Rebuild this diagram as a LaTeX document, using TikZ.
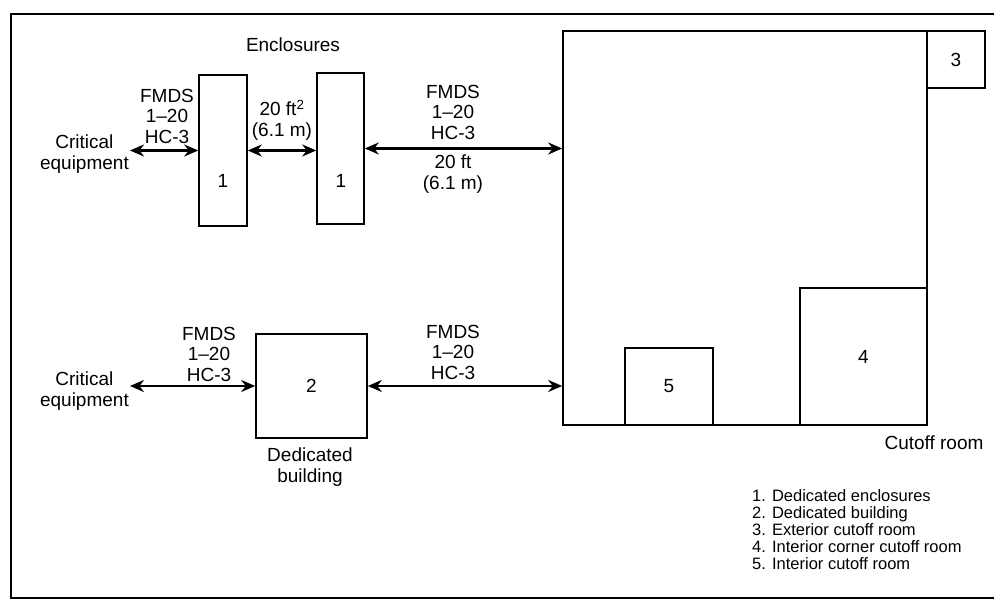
\documentclass[tikz,border=0pt]{standalone}
\usepackage{fontspec}
\setmainfont{Liberation Sans}
\usetikzlibrary{arrows.meta}
\begin{document}
\begin{tikzpicture}[x=1pt,y=1pt]
    \tikzset{
        room/.style={draw,line width=1.6pt,inner sep=0pt,font=\fontsize{19}{20.5}\selectfont},
        txt/.style={align=center,inner sep=1pt,font=\fontsize{19}{20.5}\selectfont},
        distline/.style={{Stealth[length=14pt,width=12pt]}-{Stealth[length=14pt,width=12pt]},line width=2.2pt}
    };
    \useasboundingbox (0,0) rectangle (994,615);
    \draw[line width=1.6pt] (994,601) -- (11,601) -- (11,17) -- (994,17);
    \node[room,minimum width=48,minimum height=151] (encA) at (223,464.5) {};
    \node[room,minimum width=47,minimum height=151] (encB) at (340.5,466.5) {};
    \node[txt] (numA) at (223,434) {1};
    \node[txt] (numB) at (341,434) {1};
    \node[txt] (encl) at (293,570) {Enclosures};
    \node[room,minimum width=364,minimum height=394] (cutoff) at (745,387) {};
    \node[room,minimum width=58,minimum height=57] (ext) at (956,555.5) {3};
    \node[room,minimum width=88,minimum height=77] (inner) at (669,228.5) {5};
    \node[room,minimum width=127,minimum height=137] (corner) at (863.5,258.5) {4};
    \node[room,minimum width=111,minimum height=104] (bldg) at (311.5,229) {2};
    \node[txt,anchor=east] (critA) at (130,461) {Critical\\equipment};
    \node[txt,anchor=east] (critB) at (130,224) {Critical\\equipment};
    \draw[distline] (critA.east |- encA.west) -- (encA.west);
    \draw[distline] (encA.east) -- (encA.east -| encB.west);
    \draw[distline] (encB.east) -- (encB.east -| cutoff.west);
    \draw[distline] (critB.east |- bldg.west) -- (bldg.west);
    \draw[distline] (bldg.east) -- (bldg.east -| cutoff.west);
    \node[txt] (fmdsA) at (167,499) {FMDS\\1\textendash20\\HC-3};
    \node[txt] (ftA) at (282,495) {20 ft\textsuperscript{2}\\(6.1 m)};
    \node[txt] (fmdsB) at (453,503) {FMDS\\1\textendash20\\HC-3};
    \node[txt] (ftB) at (453,441) {20 ft\\(6.1 m)};
    \node[txt] (fmdsC) at (209,261) {FMDS\\1\textendash20\\HC-3};
    \node[txt] (fmdsD) at (453,263) {FMDS\\1\textendash20\\HC-3};
    \node[txt] (bldgname) at (310,148) {Dedicated\\building};
    \node[txt] (cutname) at (934,172) {Cutoff room};
    \node[txt,align=left,anchor=west,font=\fontsize{16.5}{17}\selectfont] (legend) at (751,85) {1. Dedicated enclosures\\2. Dedicated building\\3. Exterior cutoff room\\4. Interior corner cutoff room\\5. Interior cutoff room};
\end{tikzpicture}
\end{document}
